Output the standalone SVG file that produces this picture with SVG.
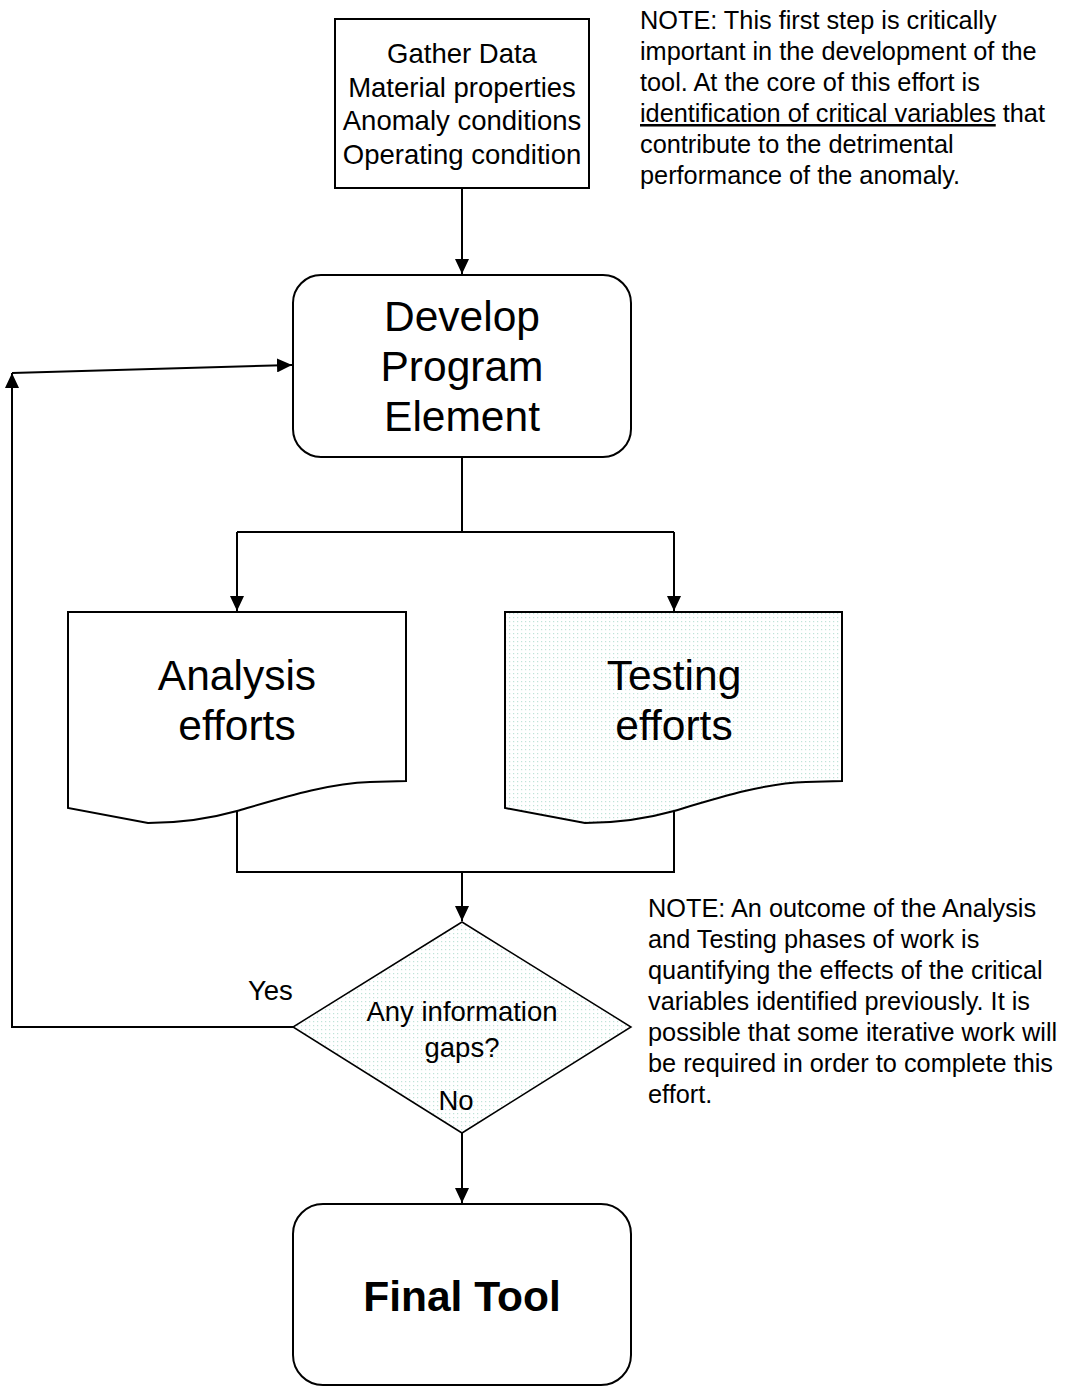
<svg xmlns="http://www.w3.org/2000/svg" width="1066" height="1387" viewBox="0 0 1066 1387">
<style>
text { font-family: "Liberation Sans", Arial, sans-serif; fill: #000; }
.box { fill: #fff; stroke: #000; stroke-width: 2; }
.pat { fill: url(#dots); stroke: #000; stroke-width: 2; }
.dpat { fill: url(#dots); stroke: #000; stroke-width: 1.5; }
.conn { fill: none; stroke: #000; stroke-width: 2; }
.c { text-anchor: middle; }
.big { font-size: 42.5px; }
.med { font-size: 27.5px; }
.note { font-size: 25.3px; }
</style>
<defs>
<pattern id="dots" width="4" height="4" patternUnits="userSpaceOnUse">
<rect width="4" height="4" fill="#fff"/>
<rect x="1" y="1" width="1.2" height="1.2" fill="#bfe3d8"/>
</pattern>
<marker id="arr" markerUnits="userSpaceOnUse" markerWidth="16" markerHeight="14" refX="15" refY="7" orient="auto">
<path d="M0,0 L15,7 L0,14 Z" fill="#000"/>
</marker>
</defs>

<g id="connectors">
<path class="conn" d="M462,188 V274" marker-end="url(#arr)"/>
<path class="conn" d="M462,457 V532 M237,532 H674"/>
<path class="conn" d="M237,532 V611" marker-end="url(#arr)"/>
<path class="conn" d="M674,532 V611" marker-end="url(#arr)"/>
<path class="conn" d="M237,811 V872 H674 V811"/>
<path class="conn" d="M462,872 V921" marker-end="url(#arr)"/>
<path class="conn" d="M293,1027 H12 V373" marker-end="url(#arr)"/>
<path class="conn" d="M12,373 L292,365" marker-end="url(#arr)"/>
<path class="conn" d="M462,1133 V1203" marker-end="url(#arr)"/>
</g>

<g id="gather">
<rect class="box" x="335" y="19" width="254" height="169"/>
<text class="c med" x="462" y="63">Gather Data</text>
<text class="c med" x="462" y="97">Material properties</text>
<text class="c med" x="462" y="130">Anomaly conditions</text>
<text class="c med" x="462" y="164">Operating condition</text>
</g>

<g id="develop">
<rect class="box" x="293" y="275" width="338" height="182" rx="28" ry="28"/>
<text class="c big" x="462" y="331">Develop</text>
<text class="c big" x="462" y="381">Program</text>
<text class="c big" x="462" y="431">Element</text>
</g>

<g id="analysis">
<path class="box" d="M68,612 H406 V781 L370,782 C330,783 285,797 237,811 C205,820 175,823 148,823 L68,808 Z"/>
<text class="c big" x="237" y="690">Analysis</text>
<text class="c big" x="237" y="740">efforts</text>
</g>

<g id="testing">
<path class="pat" d="M505,612 H842 V781 L806,782 C766,783 721,797 674,811 C642,820 612,823 585,823 L505,808 Z"/>
<text class="c big" x="674" y="690">Testing</text>
<text class="c big" x="674" y="740">efforts</text>
</g>

<g id="decision">
<path class="dpat" d="M462,922 L631,1027 L462,1133 L293,1027 Z"/>
<text class="c med" x="462" y="1021">Any information</text>
<text class="c med" x="462" y="1057">gaps?</text>
<text class="c med" x="456" y="1110">No</text>
</g>

<text class="med" x="248" y="1000">Yes</text>

<g id="final">
<rect class="box" x="293" y="1204" width="338" height="181" rx="30" ry="30"/>
<text class="c big" x="462" y="1311" font-weight="bold">Final Tool</text>
</g>

<g id="note1">
<text class="note" x="640" y="29">NOTE: This first step is critically</text>
<text class="note" x="640" y="60">important in the development of the</text>
<text class="note" x="640" y="91">tool. At the core of this effort is</text>
<text class="note" x="640" y="122"><tspan text-decoration="underline">identification of critical variables</tspan> that</text>
<text class="note" x="640" y="153">contribute to the detrimental</text>
<text class="note" x="640" y="184">performance of the anomaly.</text>
</g>

<g id="note2">
<text class="note" x="648" y="917">NOTE: An outcome of the Analysis</text>
<text class="note" x="648" y="948">and Testing phases of work is</text>
<text class="note" x="648" y="979">quantifying the effects of the critical</text>
<text class="note" x="648" y="1010">variables identified previously. It is</text>
<text class="note" x="648" y="1041">possible that some iterative work will</text>
<text class="note" x="648" y="1072">be required in order to complete this</text>
<text class="note" x="648" y="1103">effort.</text>
</g>
</svg>
